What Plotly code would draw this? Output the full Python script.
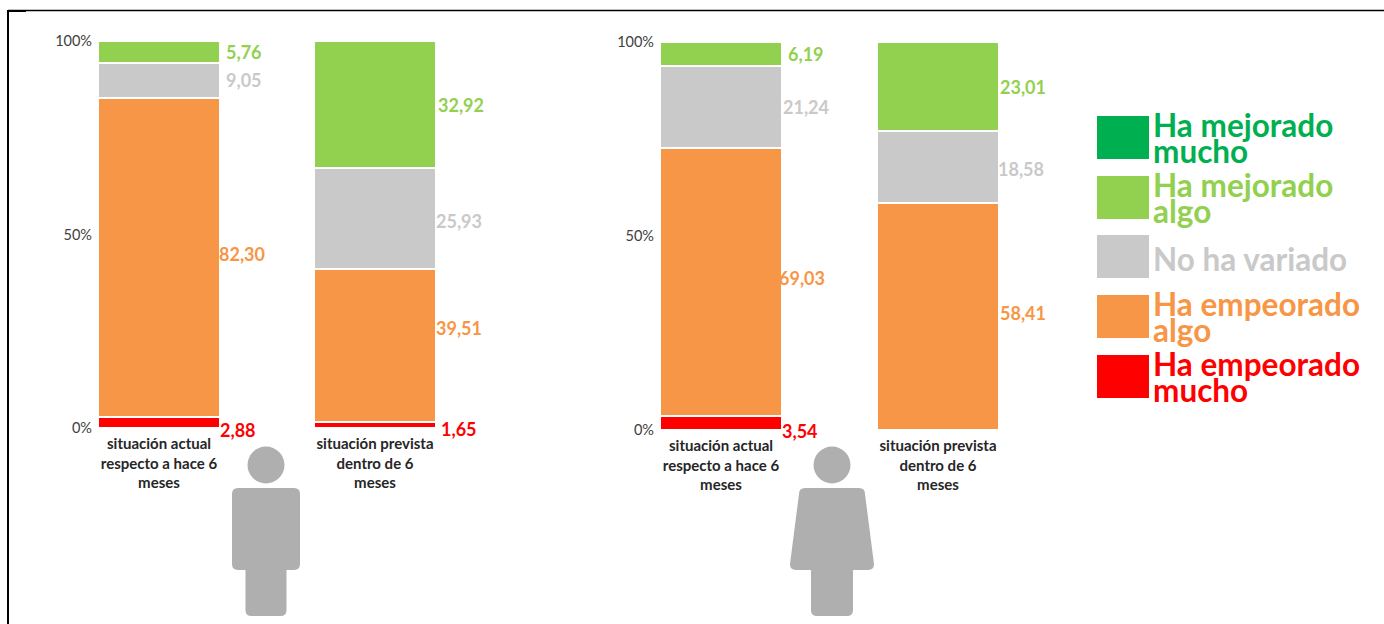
import plotly.graph_objects as go

W, H = 1384, 624
FONT = "Lato"

situaciones = ["situación actual<br>respecto a hace 6<br>meses", "situación prevista<br>dentro de 6<br>meses"]
series_nombres = ["Ha empeorado mucho", "Ha empeorado algo", "No ha variado", "Ha mejorado algo"]
series_colores = ["#FF0000", "#F79646", "#C9C9C9", "#92D050"]

hombres_empeorado_mucho = [2.88, 1.65]
hombres_empeorado_algo = [82.30, 39.51]
hombres_sin_variar = [9.05, 25.93]
hombres_mejorado_algo = [5.76, 32.92]

mujeres_empeorado_mucho = [3.54, None]
mujeres_empeorado_algo = [69.03, 58.41]
mujeres_sin_variar = [21.24, 18.58]
mujeres_mejorado_algo = [6.19, 23.01]

hombres = [hombres_empeorado_mucho, hombres_empeorado_algo, hombres_sin_variar, hombres_mejorado_algo]
mujeres = [mujeres_empeorado_mucho, mujeres_empeorado_algo, mujeres_sin_variar, mujeres_mejorado_algo]

ytick_vals = [0, 50, 100]
ytick_text = ["0%", "50%", "100%"]

leyenda = [
    (["Ha mejorado", "mucho"], "#00B050"),
    (["Ha mejorado", "algo"], "#92D050"),
    (["No ha variado"], "#C9C9C9"),
    (["Ha empeorado", "algo"], "#F79646"),
    (["Ha empeorado", "mucho"], "#FF0000"),
]

fig = go.Figure()
cats = [0, 1]


def px(x):
    return x / W


def py(y):
    return 1 - y / H


def add_group(groups, xa, ya):
    for vals, name, col in zip(groups, series_nombres, series_colores):
        fig.add_trace(go.Bar(x=cats, y=[v if v is not None else 0 for v in vals], name=name,
                             marker=dict(color=col, line=dict(color="white", width=2)),
                             xaxis=xa, yaxis=ya, showlegend=False, hoverinfo="skip"))


add_group(hombres, "x", "y")
add_group(mujeres, "x2", "y2")


def axes(left, right, top, bottom, c0, spacing):
    xr = [(left - c0) / spacing, (right - c0) / spacing]
    xaxis = dict(domain=[px(left), px(right)], range=xr, tickmode="array", tickvals=cats,
                 ticktext=[f"<b>{s}</b>" for s in situaciones], ticks="", showline=False,
                 showgrid=False, zeroline=False, tickangle=0, automargin=False, ticklabelstandoff=5,
                 tickfont=dict(family=FONT, size=15, color="#262626"))
    yaxis = dict(domain=[py(bottom), py(top)], range=[0, 100], tickmode="array", tickvals=ytick_vals,
                 ticktext=ytick_text, ticks="", showline=False, showgrid=False, zeroline=False,
                 automargin=False, ticklabelstandoff=3,
                 tickfont=dict(family=FONT, size=14.5, color="#404040"))
    return xaxis, yaxis


xa1, ya1 = axes(96, 483, 41, 428, 159, 216)
xa2, ya2 = axes(658, 1046, 42, 430, 721, 217)
xa2["anchor"] = "y2"
ya2["anchor"] = "x2"

annotations = []
# desplazamientos de las etiquetas (px): (dx desde el centro de la barra, dy)
off_h = [[(59, 8), (64, 4)], [(58, -4), (59, -17)], [(65, -1), (59, 2)], [(65, 0), (61, 0)]]
off_m = [[(59, 8), (0, 0)], [(56, -4), (60, -4)], [(60, 0), (58, 2)], [(65, 0), (60, 0)]]


def add_labels(groups, offs, xref, yref):
    for k in cats:
        base = 0
        for s, vals in enumerate(groups):
            v = vals[k]
            if v is None:
                continue
            dx, dy = offs[s][k]
            annotations.append(dict(x=k, y=base + v / 2, xref=xref, yref=yref, xanchor="left", yanchor="middle",
                                    xshift=dx, yshift=-dy, showarrow=False,
                                    text=f"<b>{v:.2f}</b>".replace(".", ","),
                                    font=dict(family=FONT, size=18, color=series_colores[s])))
            base += v


add_labels(hombres, off_h, "x", "y")
add_labels(mujeres, off_m, "x2", "y2")

shapes = []
# marco superior e izquierdo
shapes.append(dict(type="line", xref="paper", yref="paper", x0=px(8), x1=1, y0=py(10.5), y1=py(10.5),
                   line=dict(color="black", width=1.5)))
shapes.append(dict(type="line", xref="paper", yref="paper", x0=px(8), x1=px(8), y0=py(10), y1=0,
                   line=dict(color="black", width=2)))
shapes.append(dict(type="line", xref="paper", yref="paper", x0=px(8), x1=px(26), y0=py(11), y1=py(11),
                   line=dict(color="black", width=2)))

# leyenda
ley_tops = [116, 176, 235, 295, 355]
for (lines, col), top in zip(leyenda, ley_tops):
    shapes.append(dict(type="rect", xref="paper", yref="paper", x0=px(1097), x1=px(1149),
                       y0=py(top), y1=py(top + 43), fillcolor=col, line_width=0))
    ys = [top + 9, top + 35] if len(lines) == 2 else [top + 24]
    for t, y in zip(lines, ys):
        annotations.append(dict(x=px(1151), y=py(y), xref="paper", yref="paper", xanchor="left", yanchor="middle",
                                showarrow=False, text=f"<b>{t}</b>",
                                font=dict(family=FONT, size=31.5, color=col)))

GRIS = "#AFAFAF"


def figure(cx, top_half, bot_half, leg_half, r=6):
    head = dict(type="circle", xref="paper", yref="paper", x0=px(cx - 18.5), x1=px(cx + 18.5),
                y0=py(446.5), y1=py(483.5), fillcolor=GRIS, line_width=0)
    P = lambda x, y: f"{px(x):.5f},{py(y):.5f}"
    T, M, B = 488, 570, 616
    L = cx - leg_half
    R = cx + leg_half
    d = (f"M {P(cx-top_half+r, T)} L {P(cx+top_half-r, T)} Q {P(cx+top_half, T)} {P(cx+top_half, T+r)} "
         f"L {P(cx+bot_half, M-r)} Q {P(cx+bot_half, M)} {P(cx+bot_half-r, M)} L {P(R, M)} L {P(R, B-r)} "
         f"Q {P(R, B)} {P(R-r, B)} L {P(L+r, B)} Q {P(L, B)} {P(L, B-r)} L {P(L, M)} L {P(cx-bot_half+r, M)} "
         f"Q {P(cx-bot_half, M)} {P(cx-bot_half, M-r)} L {P(cx-top_half, T+r)} Q {P(cx-top_half, T)} {P(cx-top_half+r, T)} Z")
    body = dict(type="path", xref="paper", yref="paper", path=d, fillcolor=GRIS, line_width=0)
    return [head, body]


shapes += figure(266, 34, 34, 20.5)
shapes += figure(832, 33, 42, 21)

fig.update_layout(
    width=W, height=H, autosize=False, margin=dict(l=0, r=0, t=0, b=0),
    barmode="stack", bargap=0.435, paper_bgcolor="white", plot_bgcolor="white",
    xaxis=xa1, yaxis=ya1, xaxis2=xa2, yaxis2=ya2,
    showlegend=False, shapes=shapes, annotations=annotations,
    font=dict(family=FONT),
)
fig.write_html("out.html", config={"displayModeBar": False},
               post_script="document.body.style.margin='0';document.documentElement.style.overflow='hidden';")
